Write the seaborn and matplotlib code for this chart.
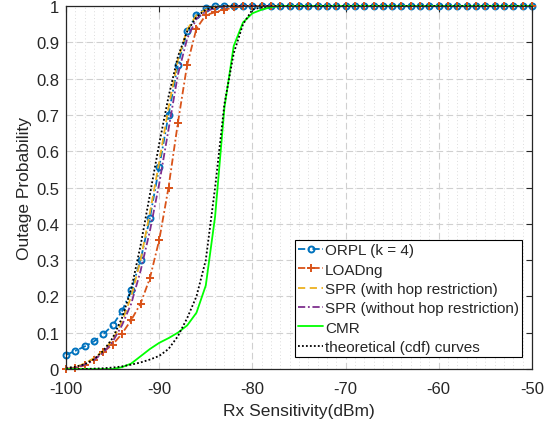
import numpy as np
import pandas as pd
import matplotlib
matplotlib.use("Agg")
import matplotlib.pyplot as plt
import seaborn as sns

# x axis: Rx sensitivity in dBm, one point per dB
rx = list(range(-100, -49))

orpl_head = [0.039, 0.05, 0.062, 0.076, 0.096, 0.12, 0.159, 0.217, 0.30, 0.416,
             0.556, 0.70, 0.838, 0.93, 0.976, 0.994, 0.999]
loadng_head = [0.0, 0.003, 0.01, 0.025, 0.047, 0.067, 0.097, 0.135, 0.18, 0.25,
               0.355, 0.50, 0.677, 0.838, 0.938, 0.975, 0.983, 0.99, 0.996, 0.999]
spr_hop_head = [0.0, 0.005, 0.015, 0.03, 0.05, 0.08, 0.13, 0.20, 0.30, 0.43,
                0.57, 0.72, 0.85, 0.935, 0.975, 0.99, 0.998]
spr_nohop_head = [0.0, 0.003, 0.012, 0.025, 0.045, 0.075, 0.12, 0.18, 0.27, 0.38,
                  0.51, 0.66, 0.81, 0.91, 0.965, 0.985, 0.995, 0.999]
cmr_head = [0.0, 0.0, 0.0, 0.0, 0.0, 0.0, 0.005, 0.015, 0.035, 0.055,
            0.072, 0.085, 0.10, 0.12, 0.155, 0.23, 0.42, 0.72, 0.89, 0.955,
            0.98, 0.99, 0.997, 1.0]
theo1_head = [0.003, 0.006, 0.013, 0.027, 0.05, 0.085, 0.14, 0.22, 0.34, 0.48,
              0.62, 0.75, 0.86, 0.93, 0.97, 0.99, 0.997, 1.0]
theo2_head = [0.0, 0.0, 0.0, 0.001, 0.002, 0.004, 0.007, 0.012, 0.018, 0.026,
              0.036, 0.055, 0.09, 0.14, 0.20, 0.30, 0.50, 0.73, 0.87, 0.95,
              0.99, 0.997, 1.0]

x_ticks = [-100, -90, -80, -70, -60, -50]
y_ticks = [0, 0.1, 0.2, 0.3, 0.4, 0.5, 0.6, 0.7, 0.8, 0.9, 1]
y_ticklabels = ["0", "0.1", "0.2", "0.3", "0.4", "0.5", "0.6", "0.7", "0.8", "0.9", "1"]


def pad(vals):
    # curves sit at 1 for the rest of the range
    return vals + [1.0] * (len(rx) - len(vals))


series = {
    "ORPL (k = 4)": pad(orpl_head),
    "LOADng": pad(loadng_head),
    "SPR (with hop restriction)": pad(spr_hop_head),
    "SPR (without hop restriction)": pad(spr_nohop_head),
    "CMR": pad(cmr_head),
    "theoretical (cdf) curves": pad(theo1_head),
}
theo2 = pad(theo2_head)

dashdot = (4, 1.5, 1, 1.5)
styles = {
    "ORPL (k = 4)": dict(color="#0072BD", dashes=dashdot, marker="o",
                         markersize=4.3, markerfacecolor="none",
                         markeredgecolor="#0072BD", markeredgewidth=1.4),
    "LOADng": dict(color="#D95319", dashes=dashdot, marker="+",
                   markersize=6, markeredgecolor="#D95319", markeredgewidth=1.4),
    "SPR (with hop restriction)": dict(color="#EDB120", dashes=(4, 2.5)),
    "SPR (without hop restriction)": dict(color="#7E2F8E", dashes=dashdot),
    "CMR": dict(color="#00FF00"),
    "theoretical (cdf) curves": dict(color="black", dashes=(1, 1.2)),
}

sns.set_theme(style="white")
plt.rcParams["font.family"] = ["Liberation Sans", "DejaVu Sans"]
plt.rcParams["axes.unicode_minus"] = False

fig = plt.figure(figsize=(5.56, 4.27), dpi=100)
ax = fig.add_axes([0.1187, 0.1335, 0.838, 0.850])

ax.set_axisbelow(True)
ax.grid(True, which="major", color="#d0d0d0", linestyle=(0, (6, 3)), linewidth=0.8)
ax.set_xticks(np.arange(-100, -49, 1), minor=True)
ax.grid(True, which="minor", axis="x", color="#dcdcdc", linestyle=(0, (1, 2.5)), linewidth=0.7)

for name, vals in series.items():
    st = dict(styles[name])
    dashes = st.pop("dashes", None)
    sns.lineplot(x=rx, y=vals, ax=ax, label=name, linewidth=1.3, **st)
    line = ax.get_lines()[-1]
    line.set_clip_on(False)
    if dashes is not None:
        line.set_dashes(dashes)

sns.lineplot(x=rx, y=theo2, ax=ax, color="black", linewidth=1.3)
ax.get_lines()[-1].set_dashes((1, 1.2))

ax.set_xlim(-100, -50)
ax.set_ylim(0, 1)
ax.set_xticks(x_ticks)
ax.set_xticklabels([str(v) for v in x_ticks])
ax.set_yticks(y_ticks)
ax.set_yticklabels(y_ticklabels)
ax.tick_params(axis="both", which="major", direction="in", length=4, width=0.8,
               labelsize=12, colors="#262626", top=True, right=True, pad=5)
ax.tick_params(axis="x", which="major", pad=9)
ax.tick_params(axis="both", which="minor", length=0)
for sp in ax.spines.values():
    sp.set_color("#262626")
    sp.set_linewidth(0.9)

ax.set_xlabel("Rx Sensitivity(dBm)", fontsize=12.5, color="#262626", labelpad=5)
ax.set_ylabel("Outage Probability", fontsize=12.5, color="#262626", labelpad=3)

leg = ax.legend(loc="lower right", bbox_to_anchor=(0.979, 0.033), borderaxespad=0,
                fontsize=11, frameon=True, fancybox=False, edgecolor="black",
                framealpha=1, labelspacing=0.35, handlelength=1.6, handletextpad=0.15,
                borderpad=0.2)
leg.get_frame().set_linewidth(0.8)

fig.savefig("out.png", dpi=100)
